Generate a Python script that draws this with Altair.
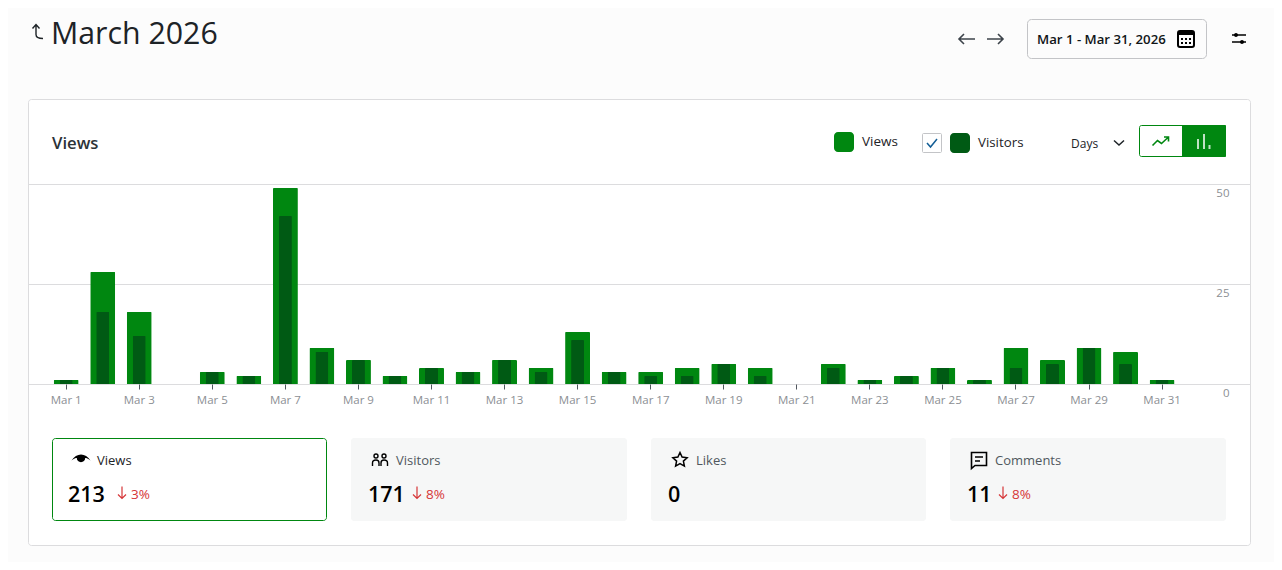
import altair as alt
import pandas as pd

days = [f"Mar {d}" for d in range(1, 32)]
views = [1, 28, 18, 0, 3, 2, 49, 9, 6, 2, 4, 3, 6, 4, 13, 3, 3, 4, 5, 4, 0, 5, 1, 2, 4, 1, 9, 6, 9, 8, 1]
visitors = [1, 18, 12, 0, 3, 2, 42, 8, 6, 2, 4, 3, 6, 3, 11, 3, 2, 2, 5, 2, 0, 4, 1, 2, 4, 1, 4, 5, 9, 5, 1]
tick_days = days[::2]
y_ticks = [0, 25, 50]
stat_names = ["Views", "Visitors", "Likes", "Comments"]
stat_values = ["213", "171", "0", "11"]
stat_changes = ["3%", "8%", "", "8%"]

FONT = "Open Sans"
GREEN = "#008710"
DARK = "#005a14"
INK = "#1d2327"
RED = "#d63638"
OX, OY = 28, 184  # page position of the plot area

df = pd.DataFrame({"day": days, "views": views, "visitors": visitors})
grid_df = pd.DataFrame({"v": y_ticks})


def R(x1, y1, x2, y2, fill=None, stroke=None, radius=0, sw=1, opacity=1):
    kw = dict(cornerRadius=radius, opacity=opacity)
    if fill:
        kw["fill"] = fill
    else:
        kw["fillOpacity"] = 0
    if stroke:
        kw["stroke"] = stroke
        kw["strokeWidth"] = sw
    return alt.Chart().mark_rect(**kw).encode(
        x=alt.value(x1 - OX), x2=alt.value(x2 - OX), y=alt.value(y1 - OY), y2=alt.value(y2 - OY)
    )


def T(s, x, y, size=13, color=INK, weight=400, align="left"):
    return alt.Chart().mark_text(
        font=FONT, fontSize=size, color=color, fontWeight=weight, align=align, baseline="middle"
    ).encode(x=alt.value(x - OX), y=alt.value(y - OY), text=alt.value(s))


def P(path, x, y, color=INK, sw=1.5, filled=False, opacity=1):
    kw = dict(shape=path, size=4, filled=filled, color=color, opacity=opacity)
    if filled:
        kw["strokeWidth"] = 0
    else:
        kw["strokeWidth"] = sw
    return alt.Chart().mark_point(**kw).encode(x=alt.value(x - OX), y=alt.value(y - OY))


y_scale = alt.Scale(domain=[0, 50], range=[200, 0], nice=False)
x_scale = alt.Scale(domain=days, range=[19.93, 1152.36], type="band")
y_axis = alt.Axis(
    orient="right", values=y_ticks, grid=False, domain=False, ticks=False, title=None, zindex=1,
    labelFont=FONT, labelFontSize=11.5, labelColor="#8c8f94", labelAlign="right", labelBaseline="middle",
    labelPadding=-21, labelOffset=9,
)
x_axis = alt.Axis(
    values=tick_days, grid=False, domain=False, title=None, labelAngle=0, zindex=1, labelOverlap=False,
    tickColor="#50575e", tickSize=5, tickWidth=1, labelFont=FONT, labelFontSize=11.5, labelColor="#8c8f94",
    labelPadding=5,
)

grid = alt.Chart(grid_df).mark_rule(color="#dcdcde", strokeWidth=1, yOffset=0.5).encode(
    x=alt.value(0),
    x2=alt.value(1222),
    y=alt.Y("v:Q", scale=y_scale, axis=y_axis),
)
bar_views = alt.Chart(df).mark_bar(size=25, color=GREEN, cornerRadiusTopLeft=1, cornerRadiusTopRight=1).encode(
    x=alt.X("day:N", sort=days, scale=x_scale, axis=x_axis),
    y=alt.Y("views:Q", scale=y_scale, axis=y_axis),
)
bar_visitors = alt.Chart(df).mark_bar(size=13, color=DARK, cornerRadiusTopLeft=1, cornerRadiusTopRight=1).encode(
    x=alt.X("day:N", sort=days, scale=x_scale, axis=x_axis),
    y=alt.Y("visitors:Q", scale=y_scale, axis=y_axis),
)

layers = [
    R(28.5, 99.5, 1250.5, 545.5, fill="#ffffff", stroke="#dcdcde", radius=3),
    grid,
    bar_views,
    bar_visitors,
    # page header
    P("M-3.5,-3 L0,-7 L3.5,-3 M0,-7 V3 C0,6 2,7 7,7", 36, 31.5, color=INK, sw=1.4),
    T("March 2026", 51, 35, size=30.3, color=INK),
    P("M8,0 H-8 M-3,-5 L-8,0 L-3,5", 967, 39, color="#3c434a", sw=1.6),
    P("M-8,0 H8 M3,-5 L8,0 L3,5", 995, 39, color="#3c434a", sw=1.6),
    R(1027.5, 19.5, 1206.5, 58.5, stroke="#c3c4c7", radius=4),
    T("Mar 1 - Mar 31, 2026", 1037, 40, size=13.2, color="#101517", weight=600),
    R(1178, 31, 1194, 47, stroke="#000000", radius=2, sw=2),
    R(1178, 31, 1194, 35, fill="#000000"),
    P("M-5,-1 h2 v2 h-2 z M-1,-1 h2 v2 h-2 z M3,-1 h2 v2 h-2 z M-5,3 h2 v2 h-2 z M-1,3 h2 v2 h-2 z M3,3 h2 v2 h-2 z",
      1186, 39, color="#000000", filled=True),
    P("M-7,-3.5 H7 M-7,3.5 H7", 1239, 38.5, color="#000000", sw=1.5),
    P("M-5,-3.5 a2,2 0 1 0 4,0 a2,2 0 1 0 -4,0 z M1,3.5 a2,2 0 1 0 4,0 a2,2 0 1 0 -4,0 z", 1239, 38.5,
      color="#000000", filled=True),
    # card header
    T("Views", 52, 144, size=16.7, color="#2c3338", weight=600),
    R(834, 132, 854, 152, fill=GREEN, radius=4),
    T("Views", 862, 142, size=13.5),
    R(922.5, 133.5, 941.5, 152.5, fill="#ffffff", stroke="#c3c4c7", radius=1),
    P("M-5,0 L-1.5,4 L5,-4", 932, 143, color="#135e96", sw=1.5),
    R(950, 133, 970, 153, fill=DARK, radius=4),
    T("Visitors", 978, 143, size=13.3),
    T("Days", 1071, 144, size=12),
    P("M-5,-2.5 L0,2 L5,-2.5", 1119, 143, color=INK, sw=1.5),
    R(1139.5, 125.5, 1225.5, 156.5, fill="#ffffff", stroke=GREEN, radius=2),
    R(1182, 125, 1226, 157, fill=GREEN, radius=1),
    P("M-8,4 L-3,-1 L1,2 L7.5,-4 M3.5,-4.5 H8 V0", 1160.5, 141.5, color=GREEN, sw=1.6),
    P("M-6,5 V-5 M0,5 V-10 M5.5,5 V1", 1204, 144, color="#ffffff", sw=2, opacity=0.75),
    # stat cards
    R(52.5, 438.5, 326.5, 520.5, fill="#ffffff", stroke=GREEN, radius=3),
    R(351, 438, 627, 521, fill="#f6f7f7", radius=3),
    R(651, 438, 926, 521, fill="#f6f7f7", radius=3),
    R(950, 438, 1226, 521, fill="#f6f7f7", radius=3),
    P("M-9.5,0.5 C-7,-3.5 -3.5,-5.5 0,-5.5 C3.5,-5.5 7,-3.5 9.5,0.5 C7,-1.5 5.3,-2 4.2,-2 A4.2,4.2 0 1 1 -4.2,-2 C-5.3,-2 -7,-1.5 -9.5,0.5 Z",
      81, 460, color="#000000", filled=True),
    P("M-6,-4 a2,2 0 1 0 4,0 a2,2 0 1 0 -4,0 M2,-4 a2,2 0 1 0 4,0 a2,2 0 1 0 -4,0 M-7.5,6 V3 C-7.5,1 -6,0 -4,0 C-2,0 -1,1 -1,3 V6 M1,6 V3 C1,1 2,0 4,0 C6,0 7.5,1 7.5,3 V6",
      380, 460, color="#000000", sw=1.4),
    P("M0,-7.5 L2.1,-2.9 L7.1,-2.3 L3.4,1.1 L4.4,6.1 L0,3.6 L-4.4,6.1 L-3.4,1.1 L-7.1,-2.3 L-2.1,-2.9 Z",
      680, 460, color="#000000", sw=1.5),
    P("M-7.5,-7.5 H7.5 V5.5 H-4 L-7.5,8.5 Z M-4,-3 H4 M-4,1 H1", 979, 460, color="#000000", sw=1.6),
]

stat_x = [68, 368, 668, 967]
label_x = [97, 396, 696, 995]
arrow_x = [122, 417, 0, 1003]
pct_x = [131, 426, 0, 1012]
label_col = [INK, "#50575e", "#50575e", "#50575e"]
for i in range(4):
    layers.append(T(stat_names[i], label_x[i], 461, size=13, color=label_col[i]))
    layers.append(T(stat_values[i], stat_x[i], 495.5, size=21.5, color="#000000", weight=600))
    if stat_changes[i]:
        layers.append(P("M0,-6 V6 M-4,2 L0,6 L4,2", arrow_x[i], 492.5, color=RED, sw=1.2))
        layers.append(T(stat_changes[i], pct_x[i], 494.5, size=13.5, color=RED))

chart = alt.layer(*layers).properties(
    width=1222,
    height=200,
    padding={"left": 20, "top": 176, "right": 24, "bottom": 178},
    autosize=alt.AutoSizeParams(type="none"),
    background="#fcfcfc",
).configure_view(strokeWidth=0)

chart.save("out.html", embed_options={"renderer": "svg", "actions": False})
